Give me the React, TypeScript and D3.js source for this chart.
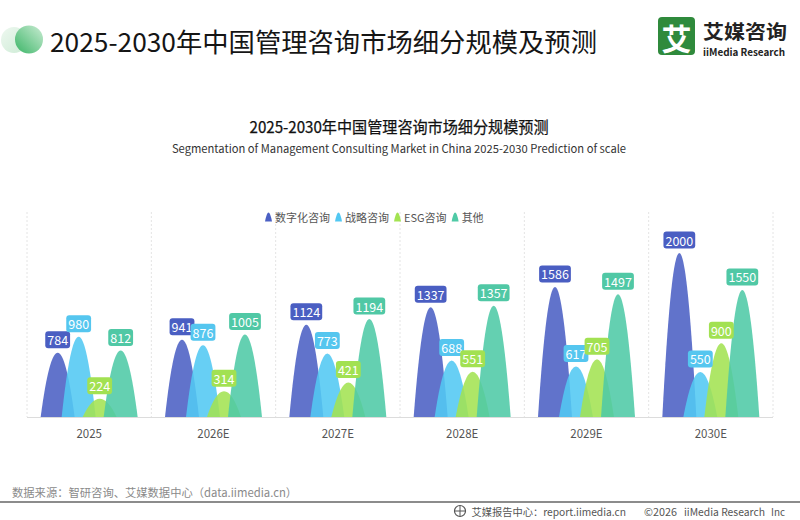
import React, { useEffect, useRef } from 'react';
import * as d3 from 'd3';

const years = ['2025', '2026E', '2027E', '2028E', '2029E', '2030E'];
const seriesNames = ['数字化咨询', '战略咨询', 'ESG咨询', '其他'];
const digital = [784, 941, 1124, 1337, 1586, 2000];
const strategy = [980, 876, 773, 688, 617, 550];
const esg = [224, 314, 421, 551, 705, 900];
const other = [812, 1005, 1194, 1357, 1497, 1550];
const barColors = ['#4b60c4', '#52c8f2', '#a3e352', '#4fcaa6'];
const labelColors = ['#4a5ec2', '#55c6ef', '#a2e152', '#50c8a5'];

const FONT = '"Noto Sans CJK SC", "Noto Sans", sans-serif';

export default function App() {
  const ref = useRef<SVGSVGElement>(null);

  useEffect(() => {
    const svg = d3.select(ref.current);
    svg.selectAll('*').remove();
    const allSeries = [digital, strategy, esg, other];

    const x = d3.scaleBand<string>().domain(years).range([27, 773]);
    const y = d3.scaleLinear().domain([0, 2500]).range([417, 212]);
    const off = d3.scalePoint<string>().domain(seriesNames).range([-31.5, 31.5]);
    const bw = 34;

    // header
    const defs = svg.append('defs');
    const g1 = defs.append('linearGradient').attr('id', 'hg').attr('x1', '0').attr('y1', '1').attr('x2', '1').attr('y2', '0');
    g1.append('stop').attr('offset', '0').attr('stop-color', '#3cb567');
    g1.append('stop').attr('offset', '1').attr('stop-color', '#c9ecd3');
    const g2 = defs.append('linearGradient').attr('id', 'hg2').attr('x1', '0').attr('y1', '0').attr('x2', '1').attr('y2', '1');
    g2.append('stop').attr('offset', '0').attr('stop-color', '#eef8f0');
    g2.append('stop').attr('offset', '1').attr('stop-color', '#cdebd5');
    svg.append('circle').attr('cx', 14).attr('cy', 40).attr('r', 13).attr('fill', 'url(#hg2)');
    svg.append('circle').attr('cx', 29).attr('cy', 39.5).attr('r', 14).attr('fill', 'url(#hg)');
    svg.append('text').attr('x', 50).attr('y', 40).attr('dominant-baseline', 'central')
      .attr('font-family', FONT).attr('font-size', 26).attr('fill', '#151515')
      .attr('textLength', 547).attr('lengthAdjust', 'spacingAndGlyphs')
      .text('2025-2030年中国管理咨询市场细分规模及预测');

    // logo
    svg.append('rect').attr('x', 658).attr('y', 17).attr('width', 37).attr('height', 38).attr('rx', 4).attr('fill', '#2f8a3c');
    svg.append('text').attr('x', 676.5).attr('y', 37).attr('dominant-baseline', 'central').attr('text-anchor', 'middle')
      .attr('font-family', FONT).attr('font-size', 30).attr('font-weight', 'bold').attr('fill', '#ffffff').text('艾');
    svg.append('text').attr('x', 703).attr('y', 30).attr('dominant-baseline', 'central')
      .attr('font-family', FONT).attr('font-size', 19).attr('font-weight', 'bold').attr('fill', '#222')
      .attr('textLength', 84).attr('lengthAdjust', 'spacingAndGlyphs').text('艾媒咨询');
    svg.append('text').attr('x', 703).attr('y', 51).attr('dominant-baseline', 'central')
      .attr('font-family', FONT).attr('font-size', 10).attr('font-weight', 'bold').attr('fill', '#222')
      .attr('textLength', 82).attr('lengthAdjust', 'spacingAndGlyphs').text('iiMedia Research');

    // chart titles
    svg.append('text').attr('x', 399).attr('y', 126).attr('dominant-baseline', 'central').attr('text-anchor', 'middle')
      .attr('font-family', FONT).attr('font-size', 15.5).attr('font-weight', 'normal').attr('fill', '#111')
      .attr('stroke', '#111').attr('stroke-width', 0.25)
      .attr('textLength', 299).attr('lengthAdjust', 'spacingAndGlyphs')
      .text('2025-2030年中国管理咨询市场细分规模预测');
    svg.append('text').attr('x', 399).attr('y', 148).attr('dominant-baseline', 'central').attr('text-anchor', 'middle')
      .attr('font-family', FONT).attr('font-size', 11.2).attr('fill', '#333')
      .text('Segmentation of Management Consulting Market in China 2025-2030 Prediction of scale');

    // grid lines
    const bounds = [...years.map((yr) => x(yr) as number), 773];
    svg.append('g').selectAll('line').data(bounds).join('line')
      .attr('x1', (d) => d).attr('x2', (d) => d).attr('y1', 212).attr('y2', 417)
      .attr('stroke', '#e4e4e4').attr('stroke-dasharray', '2,2');

    // legend
    const lg = svg.append('g');
    let lx = 265;
    seriesNames.forEach((name, i) => {
      const iy = 217;
      lg.append('path')
        .attr('d', `M${lx},${iy + 4.5} Q${lx + 3.5},${iy - 13.5} ${lx + 7},${iy + 4.5} Z`)
        .attr('fill', barColors[i]);
      const t = lg.append('text').attr('x', lx + 10).attr('y', iy).attr('dominant-baseline', 'central')
        .attr('font-family', FONT).attr('font-size', 11).attr('fill', '#555').text(name);
      const w = (t.node() as SVGTextElement).getComputedTextLength();
      lx += 10 + w + 5;
    });

    // bars
    const bars = svg.append('g');
    allSeries.forEach((vals, si) => {
      bars.selectAll(`path.s${si}`).data(vals).join('path')
        .attr('class', `s${si}`)
        .attr('d', (v, i) => {
          const cx = (x(years[i]) as number) + x.bandwidth() / 2 + (off(seriesNames[si]) as number);
          const y0 = y(0);
          const yt = y(v);
          return `M${cx - bw / 2},${y0} Q${cx},${2 * yt - y0} ${cx + bw / 2},${y0} Z`;
        })
        .attr('fill', barColors[si]).attr('fill-opacity', 0.88);
    });

    // axis
    svg.append('line').attr('x1', 27).attr('x2', 773).attr('y1', 417.5).attr('y2', 417.5).attr('stroke', '#dcdcdc');
    svg.append('g').selectAll('text').data(years).join('text')
      .attr('x', (d) => (x(d) as number) + x.bandwidth() / 2).attr('y', 433)
      .attr('dominant-baseline', 'central').attr('text-anchor', 'middle')
      .attr('font-family', FONT).attr('font-size', 11.5).attr('fill', '#555').text((d) => d);

    // labels
    const labels = svg.append('g');
    allSeries.forEach((vals, si) => {
      vals.forEach((v, i) => {
        const cx = (x(years[i]) as number) + x.bandwidth() / 2 + (off(seriesNames[si]) as number);
        const yb = y(v) - 4.5;
        const g = labels.append('g');
        const rect = g.append('rect').attr('fill', labelColors[si]).attr('rx', 3);
        const t = g.append('text').attr('x', cx).attr('y', yb - 8.5).attr('dominant-baseline', 'central')
          .attr('text-anchor', 'middle').attr('font-family', FONT).attr('font-size', 12.5).attr('fill', '#fff')
          .text(String(v));
        const w = (t.node() as SVGTextElement).getComputedTextLength() + 4;
        rect.attr('x', cx - w / 2).attr('y', yb - 17).attr('width', w).attr('height', 17);
      });
    });

    // footer
    svg.append('text').attr('x', 12).attr('y', 492).attr('dominant-baseline', 'central')
      .attr('font-family', FONT).attr('font-size', 11.3).attr('fill', '#8a8a8a')
      .text('数据来源：智研咨询、艾媒数据中心（data.iimedia.cn）');
    svg.append('line').attr('x1', 0).attr('x2', 800).attr('y1', 502).attr('y2', 502).attr('stroke', '#666').attr('stroke-width', 1.3);
    svg.append('circle').attr('cx', 460).attr('cy', 511).attr('r', 5.5).attr('fill', 'none').attr('stroke', '#555').attr('stroke-width', 1.2);
    svg.append('path').attr('d', 'M454.5,511 H465.5 M460,505.5 V516.5').attr('stroke', '#555').attr('stroke-width', 1);
    const foot = [
      { t: '艾媒报告中心：report.iimedia.cn', x: 471.5, w: 154.5 },
      { t: '©2026', x: 644, w: 33 },
      { t: 'iiMedia Research', x: 684, w: 81 },
      { t: 'Inc', x: 771, w: 14 },
    ];
    svg.append('g').selectAll('text').data(foot).join('text')
      .attr('x', (d) => d.x).attr('y', 511).attr('dominant-baseline', 'central')
      .attr('font-family', FONT).attr('font-size', 10.5).attr('fill', '#555')
      .attr('textLength', (d) => d.w).attr('lengthAdjust', 'spacingAndGlyphs')
      .text((d) => d.t);
  }, []);

  return (
    <div style={{ position: 'absolute', left: 0, top: 0 }}>
      <svg ref={ref} width={800} height={520} style={{ display: 'block', background: '#fff' }} />
    </div>
  );
}
